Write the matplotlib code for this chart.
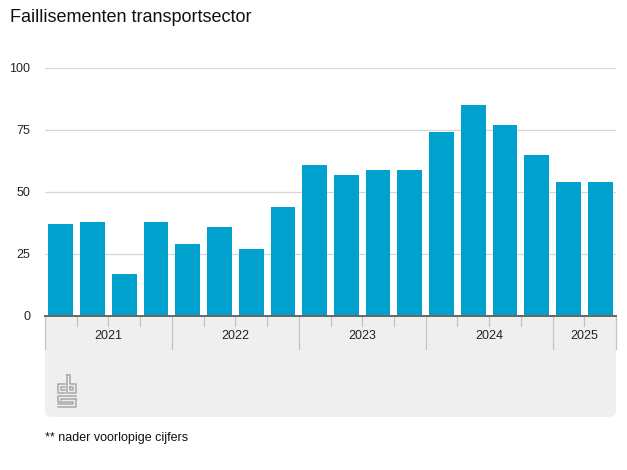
import matplotlib.pyplot as plt
import matplotlib.transforms as mtransforms
from matplotlib.patches import FancyBboxPatch, Rectangle

plt.rcParams['font.family'] = ['Liberation Sans', 'DejaVu Sans']

years = ['2021', '2022', '2023', '2024', '2025']
quarters_per_year = [4, 4, 4, 4, 2]
values = [37, 38, 17, 38, 29, 36, 27, 44, 61, 57, 59, 59, 74, 85, 77, 65, 54, 54]
yticks = [0, 25, 50, 75, 100]

W, H = 627, 470
fig = plt.figure(figsize=(W / 100, H / 100), dpi=100)


def fx(px):
    return px / W


def fy(py):
    return 1 - py / H


left, right, top, bottom = 45, 616, 68, 316
ax = fig.add_axes([fx(left), fy(bottom), fx(right - left), fy(top) - fy(bottom)])
ax.set_zorder(2)

# grey box below the axis
box_bottom = 417
fig.patches.append(FancyBboxPatch((fx(left), fy(box_bottom)), fx(right - left),
                                  fy(bottom) - fy(box_bottom),
                                  boxstyle='round,pad=0,rounding_size=0.012',
                                  transform=fig.transFigure, facecolor='#efefef',
                                  edgecolor='none', zorder=-1))
fig.patches.append(Rectangle((fx(left), fy(bottom + 20)), fx(right - left), fy(bottom) - fy(bottom + 20),
                             transform=fig.transFigure, facecolor='#efefef', edgecolor='none', zorder=-1))

x = list(range(len(values)))
ax.bar(x, values, width=0.78, color='#00a1cd', zorder=3)
ax.set_xlim(-0.5, len(values) - 0.5)
ax.set_ylim(0, 100)
ax.set_yticks(yticks)
ax.set_yticklabels([str(v) for v in yticks], fontsize=9, color='#222222')
ax.tick_params(axis='y', length=0, pad=10.5)
ax.set_xticks([])
ax.grid(axis='y', color='#d6d6d6', linewidth=0.9, zorder=0)
for s in ['top', 'right', 'left']:
    ax.spines[s].set_visible(False)
ax.spines['bottom'].set_color('#666666')
ax.spines['bottom'].set_linewidth(1.4)
ax.spines['bottom'].set_zorder(4)
ax.set_facecolor('white')

# year / quarter separators
trans = mtransforms.blended_transform_factory(ax.transData, ax.transAxes)
ax_h = bottom - top
long_len = (349 - bottom) / ax_h
short_len = (326 - bottom) / ax_h
pos = -0.5
for yr, nq in zip(years, quarters_per_year):
    ax.plot([pos, pos], [0, -long_len], transform=trans, color='#c4c4c4', lw=0.9, clip_on=False)
    for q in range(1, nq):
        ax.plot([pos + q, pos + q], [0, -short_len], transform=trans, color='#c4c4c4', lw=0.9, clip_on=False)
    ax.text(pos + nq / 2, -(336 - bottom) / ax_h, yr, transform=trans, ha='center', va='center',
            fontsize=9, color='#222222')
    pos += nq
ax.plot([pos, pos], [0, -long_len], transform=trans, color='#c4c4c4', lw=0.9, clip_on=False)

# cbs logo (simplified)
lc = '#a8a8a8'
logo = [
    [(65, 384), (58, 384), (58, 393), (65, 393)],
    [(65, 387), (61, 387), (61, 390), (65, 390)],
    [(67, 375), (67, 393), (76, 393), (76, 384), (70, 384), (70, 375), (67, 375)],
    [(70, 387), (73, 387), (73, 390), (70, 390), (70, 387)],
    [(76, 396), (58, 396), (58, 402), (73, 402), (73, 404), (58, 404)],
    [(76, 399), (61, 399), (61, 399.5)],
    [(76, 399), (76, 407), (58, 407)],
]
for seg in logo:
    fig.add_artist(plt.Line2D([fx(p[0]) for p in seg], [fy(p[1]) for p in seg],
                              transform=fig.transFigure, color=lc, lw=1.1))

fig.text(fx(10), fy(18), 'Faillisementen transportsector', fontsize=13, color='#111111',
         ha='left', va='center')
fig.text(fx(45), fy(438), '** nader voorlopige cijfers', fontsize=9, color='#111111',
         ha='left', va='center')

fig.savefig('out.png', dpi=100)
